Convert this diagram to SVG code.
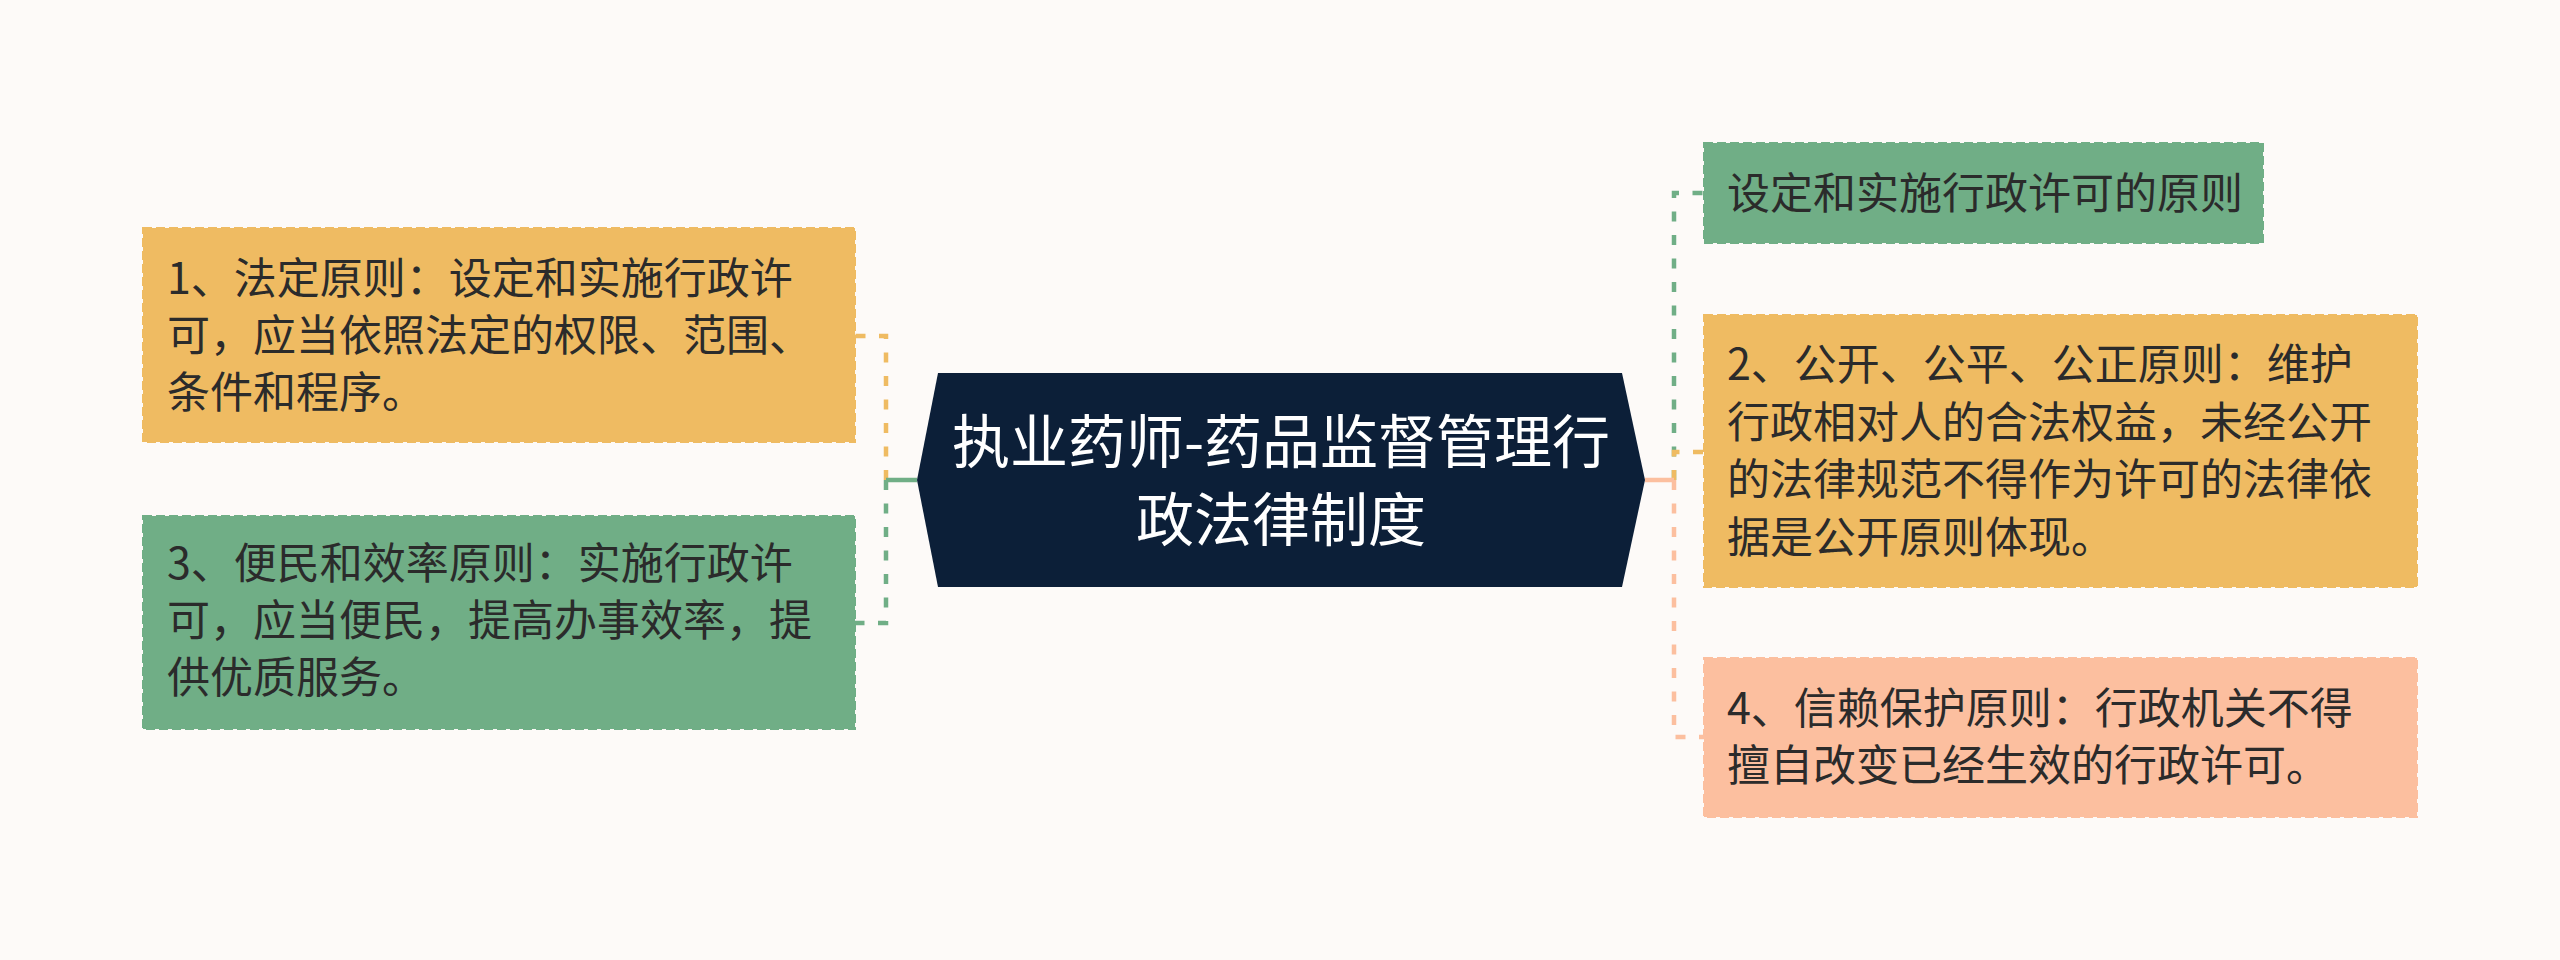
<svg xmlns="http://www.w3.org/2000/svg" width="2560" height="960" viewBox="0 0 2560 960">
<style>
.bg{fill:#fdfaf8}
.box{stroke-width:2;stroke-dasharray:9 4}
.orange{fill:#efbb62;stroke:#efbb62}
.green{fill:#70ae86;stroke:#70ae86}
.salmon{fill:#fcbf9f;stroke:#fcbf9f}
.txt{font-family:"Noto Sans CJK SC","Noto Sans",sans-serif;font-size:43px;fill:#2b2b2b}
.ctxt{font-family:"Noto Sans CJK SC","Noto Sans",sans-serif;font-size:58px;fill:#ffffff;text-anchor:middle}
.dash{fill:none;stroke-width:4.5;stroke-dasharray:10 13.5}
.solid{fill:none;stroke-width:4.5}
</style>
<rect class="bg" x="0" y="0" width="2560" height="960"/>
<g id="connectors">
  <path class="dash" stroke="#efbb62" d="M886,480 V336 H855"/>
  <path class="dash" stroke="#70ae86" d="M886,480 V623 H855"/>
  <path class="solid" stroke="#70ae86" d="M886,480 H917"/>
  <path class="dash" stroke="#70ae86" d="M1674,480 V193 H1704"/>
  <path class="dash" stroke="#efbb62" d="M1674,480 V452 H1704"/>
  <path class="dash" stroke="#fcbf9f" d="M1674,480 V737 H1704"/>
  <path class="solid" stroke="#fcbf9f" d="M1645,480 H1674"/>
</g>
<g id="center">
  <polygon fill="#0c1f38" points="938,373 1622,373 1645,480 1622,587 938,587 917,480"/>
  <text class="ctxt" x="1281" y="463">执业药师-药品监督管理行</text>
  <text class="ctxt" x="1281" y="541">政法律制度</text>
</g>
<g id="node-l1">
  <rect class="box orange" x="143" y="228" width="712" height="214"/>
  <text class="txt" x="167" y="294">1、法定原则：设定和实施行政许</text>
  <text class="txt" x="167" y="351">可，应当依照法定的权限、范围、</text>
  <text class="txt" x="167" y="408">条件和程序。</text>
</g>
<g id="node-l3">
  <rect class="box green" x="143" y="516" width="712" height="213"/>
  <text class="txt" x="167" y="579">3、便民和效率原则：实施行政许</text>
  <text class="txt" x="167" y="636">可，应当便民，提高办事效率，提</text>
  <text class="txt" x="167" y="693">供优质服务。</text>
</g>
<g id="node-r0">
  <rect class="box green" x="1704" y="143" width="559" height="100"/>
  <text class="txt" x="1727" y="209">设定和实施行政许可的原则</text>
</g>
<g id="node-r2">
  <rect class="box orange" x="1704" y="315" width="713" height="272"/>
  <text class="txt" x="1727" y="380">2、公开、公平、公正原则：维护</text>
  <text class="txt" x="1727" y="437.5">行政相对人的合法权益，未经公开</text>
  <text class="txt" x="1727" y="495">的法律规范不得作为许可的法律依</text>
  <text class="txt" x="1727" y="552.5">据是公开原则体现。</text>
</g>
<g id="node-r4">
  <rect class="box salmon" x="1704" y="658" width="713" height="159"/>
  <text class="txt" x="1727" y="724">4、信赖保护原则：行政机关不得</text>
  <text class="txt" x="1727" y="781">擅自改变已经生效的行政许可。</text>
</g>
</svg>
